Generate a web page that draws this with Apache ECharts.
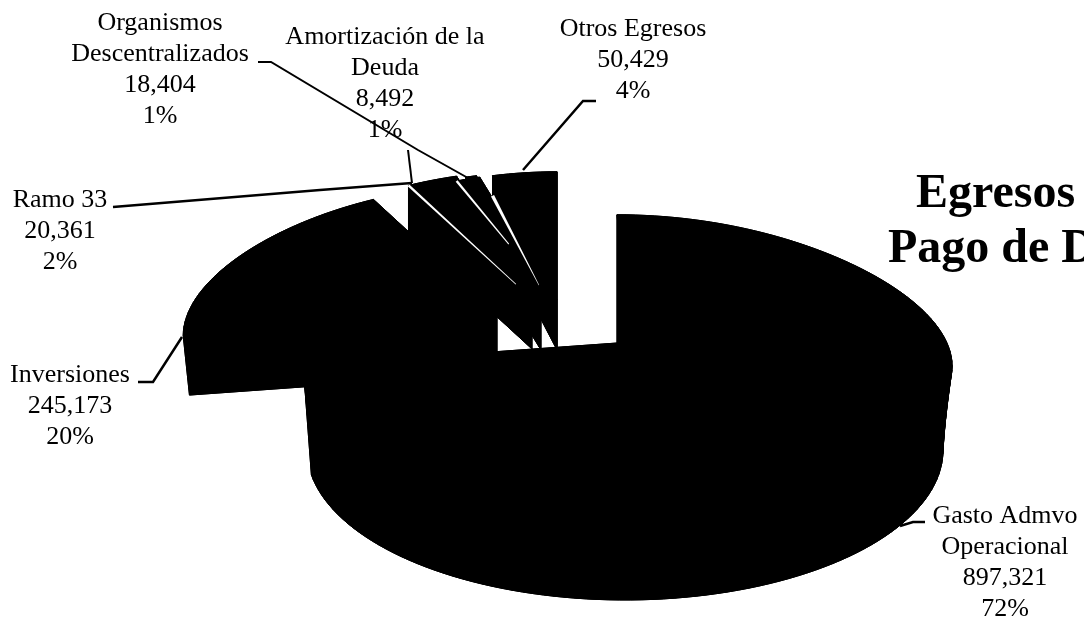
<!DOCTYPE html>
<html><head><meta charset="utf-8">
<style>html,body{margin:0;padding:0;background:#fff}#c{width:1084px;height:619px}</style>
<script src="https://cdn.jsdelivr.net/npm/echarts@6/dist/echarts.min.js"></script>
</head><body><div id="c"></div>
<script>
const categories = ['Gasto Admvo\nOperacional','Inversiones','Ramo 33','Organismos\nDescentralizados','Amortización de la\nDeuda','Otros Egresos'];
const amounts = [897321,245173,20361,18404,8492,50429];
const percents = [72,20,2,1,1,4];
const titleLines = ['Egresos','Pago de D'];

// ---- layout (not data) ----
const apexX = [617,497,532,555,541,557];
const apexY = [343,313,299,300,300,300];
const depth = [107,60,50,15,50,50];
const taper = [1,.98,1,1,1,1];
const widen = [1,1,1.9,1,1,1];
const lowerRim = [{dx:8,rx:318,ry:150},null,null,null,null,null];
const labelX = [1005,70,60,160,385,633];
const labelY = [501,360,185,8,22,14];
const leaders = [
  [[925,522],[913,522],[900,526]],
  [[138,382],[153,382],[182,337]],
  [[113,207],[320,190],[412,183]],
  [[258,62],[271,62],[418,150],[468,178]],
  [[408,150],[412,183]],
  [[596,101],[583,101],[523,170]]
];
const leaderWidth = [2.5,2.5,2.5,2,2,2.5];
const slivers = [
  {slice:2,shift:0,t1:.87,w0:2.5,w1:.8},
  {slice:3,shift:0,t1:.53,w0:2.5,w1:1},
  {slice:5,shift:20,t1:.72,w0:3.5,w1:.5}
];
const RL=309,RR=330,RY=135,P=.18,Q=.05;

const total = amounts.reduce((a,b)=>a+b,0);
const starts = []; amounts.reduce((a,v,i)=>(starts[i]=a,a+v/total*360),0);

function proj(i,deg,s,dy){
  const t=deg*Math.PI/180,u=Math.sin(t),v=-Math.cos(t);
  return [apexX[i]+s*(u>0?RR:RL)*u*(1+P*v), apexY[i]+dy+s*RY*v*(1+Q*v)];
}
function wedge(i,lower){
  const a0=starts[i],a1=a0+amounts[i]/total*360*widen[i];
  const dy=lower?depth[i]:0,rim=lower?lowerRim[i]:null,s=lower?taper[i]:1;
  const pts=[[apexX[i]+(rim?rim.dx:0),apexY[i]+dy]];
  const n=Math.max(6,Math.ceil((a1-a0)/2));
  for(let k=0;k<=n;k++){
    const d=a0+(a1-a0)*k/n,t=d*Math.PI/180;
    pts.push(rim?[apexX[i]+rim.dx+rim.rx*Math.sin(t),apexY[i]+dy-rim.ry*Math.cos(t)]:proj(i,d,s,dy));
  }
  return pts;
}
const black={fill:'#000',stroke:'#000',lineWidth:1};
function renderSlice(params,api){
  const i=api.value(0);
  const top=wedge(i,false),bot=wedge(i,true);
  const children=[{type:'polygon',shape:{points:top},style:black},{type:'polygon',shape:{points:bot},style:black}];
  for(let k=0;k<top.length;k++){
    const m=(k+1)%top.length;
    children.push({type:'polygon',shape:{points:[top[k],top[m],bot[m],bot[k]]},style:black});
  }
  return {type:'group',children};
}
function renderSliver(params,api){
  const o=slivers[api.value(0)],i=o.slice;
  const c=proj(i,starts[i],1,o.shift),a=[apexX[i],apexY[i]+o.shift];
  const e=[c[0]+(a[0]-c[0])*o.t1,c[1]+(a[1]-c[1])*o.t1];
  const L=Math.hypot(a[0]-c[0],a[1]-c[1]),nx=-(a[1]-c[1])/L,ny=(a[0]-c[0])/L;
  return {type:'polygon',shape:{points:[
    [c[0]+nx*o.w0/2,c[1]+ny*o.w0/2],[e[0]+nx*o.w1/2,e[1]+ny*o.w1/2],
    [e[0]-nx*o.w1/2,e[1]-ny*o.w1/2],[c[0]-nx*o.w0/2,c[1]-ny*o.w0/2]]},
    style:{fill:'#fff'}};
}
const serif='"Liberation Serif"';
const labels=categories.map((c,i)=>({type:'text',x:labelX[i],y:labelY[i],z:20,
  style:{text:c+'\n'+amounts[i].toLocaleString('en-US')+'\n'+percents[i]+'%',
    align:'center',verticalAlign:'top',fontFamily:serif,fontSize:26,lineHeight:31,fill:'#000'}}));
const leaderEls=leaders.map((pts,i)=>({type:'polyline',z:10,shape:{points:pts},style:{stroke:'#000',lineWidth:leaderWidth[i],fill:null}}));
const titleEls=[
  {type:'text',x:916,y:171,z:20,style:{text:titleLines[0],fontFamily:serif,fontWeight:'bold',fontSize:48,fill:'#000',verticalAlign:'top'}},
  {type:'text',x:888,y:226,z:20,style:{text:titleLines[1],fontFamily:serif,fontWeight:'bold',fontSize:48,fill:'#000',verticalAlign:'top'}}
];
const chart=echarts.init(document.getElementById('c'),null,{renderer:'canvas'});
chart.setOption({
  animation:false,backgroundColor:'#fff',
  graphic:{elements:[...leaderEls,...labels,...titleEls]},
  series:[
    {type:'custom',coordinateSystem:'none',renderItem:renderSlice,z:2,silent:true,data:amounts.map((v,i)=>[i,v])},
    {type:'custom',coordinateSystem:'none',renderItem:renderSliver,z:3,silent:true,data:slivers.map((s,i)=>[i])}
  ]
});
</script></body></html>
